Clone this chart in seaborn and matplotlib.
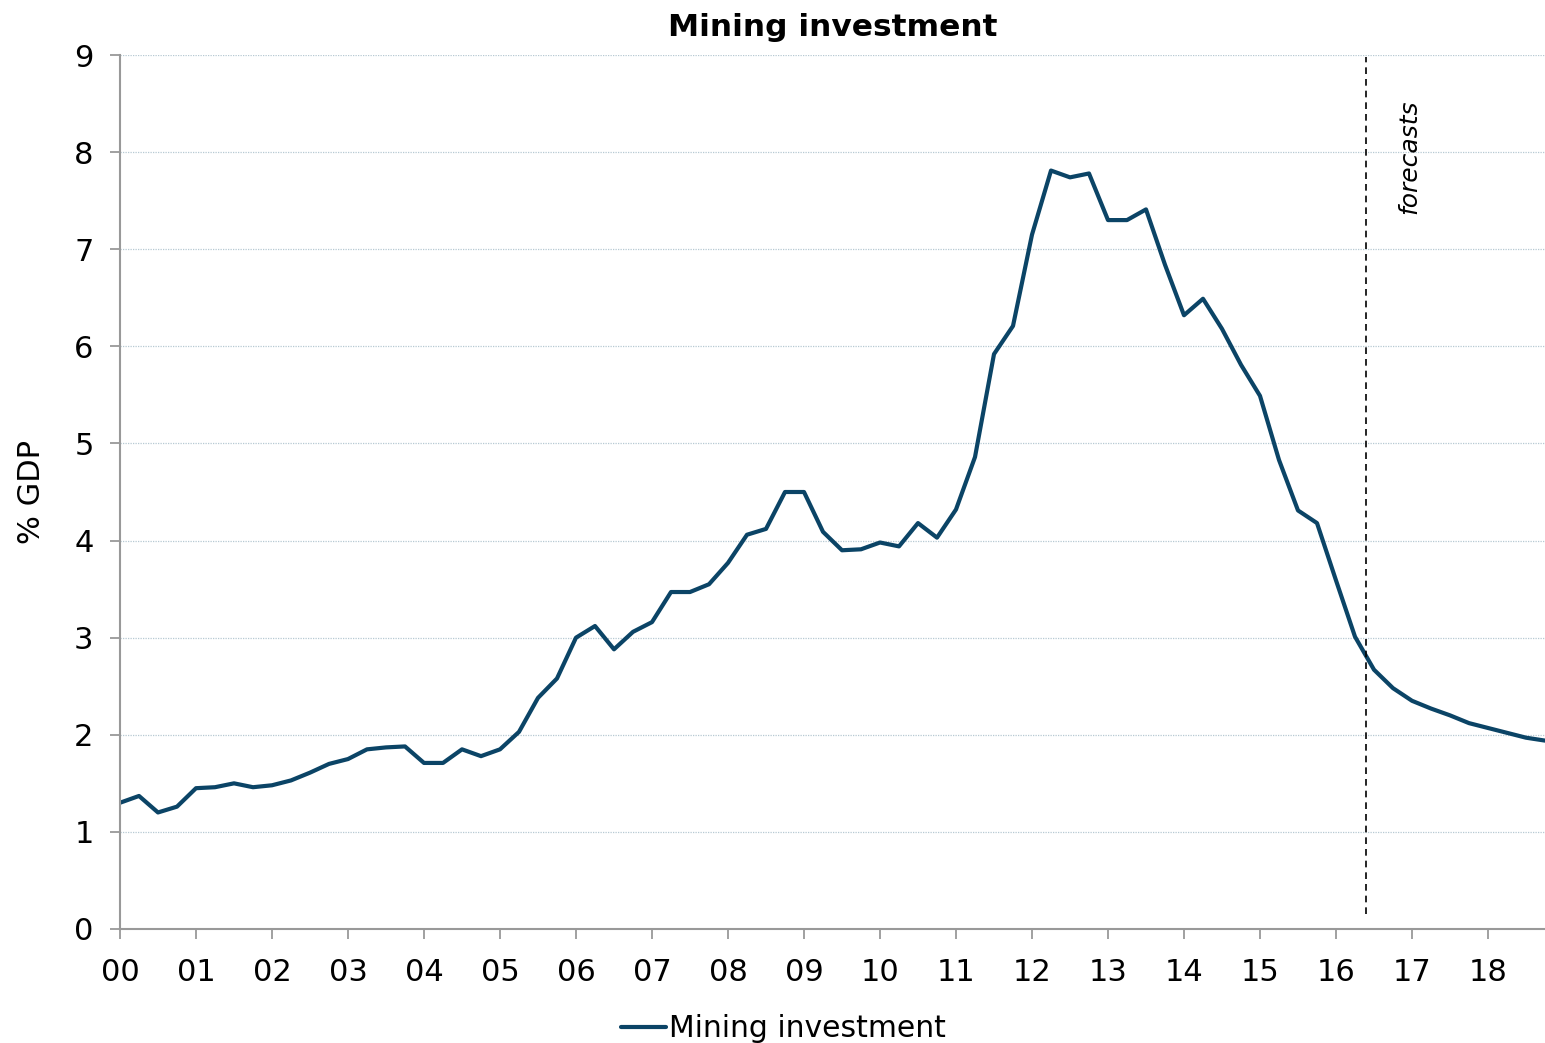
import matplotlib
matplotlib.use("Agg")
import matplotlib.pyplot as plt
import numpy as np
import pandas as pd
import seaborn as sns

# quarterly, 2000Q1 .. 2018Q4 (years since 2000)
quarters = np.arange(0, 19, 0.25)
mining = [
    1.30, 1.37, 1.20, 1.26,
    1.45, 1.46, 1.50, 1.46,
    1.48, 1.53, 1.61, 1.70,
    1.75, 1.85, 1.87, 1.88,
    1.71, 1.71, 1.85, 1.78,
    1.85, 2.03, 2.38, 2.58,
    3.00, 3.12, 2.88, 3.06,
    3.16, 3.47, 3.47, 3.55,
    3.77, 4.06, 4.12, 4.50,
    4.50, 4.09, 3.90, 3.91,
    3.98, 3.94, 4.18, 4.03,
    4.32, 4.86, 5.92, 6.21,
    7.15, 7.81, 7.74, 7.78,
    7.30, 7.30, 7.41, 6.84,
    6.32, 6.49, 6.18, 5.81,
    5.49, 4.83, 4.31, 4.18,
    3.59, 3.01, 2.67, 2.48,
    2.35, 2.27, 2.20, 2.12,
    2.07, 2.02, 1.97, 1.94,
]
year_ticks = list(range(19))
year_labels = ["%02d" % y for y in year_ticks]
forecast_start = 16.4

sns.set_style("white", {"xtick.bottom": True, "ytick.left": True,
                        "text.color": "black", "xtick.color": "#999999",
                        "ytick.color": "#999999", "axes.labelcolor": "black"})
plt.rcParams["font.family"] = ["DejaVu Sans"]

df = pd.DataFrame({"quarter": quarters, "value": mining})

fig = plt.figure(figsize=(15.45, 10.43), dpi=100)
ax = fig.add_axes([120 / 1545, 114 / 1043, 1425 / 1545, 874 / 1043])

sns.lineplot(data=df, x="quarter", y="value", ax=ax, color="#0b4466",
             linewidth=3.0, label="Mining investment", legend=False)

ax.vlines(forecast_start, 0.15, 8.98, colors="black", linestyles=(0, (4, 3)),
          linewidth=1.2)
ax.text(16.97, 7.95, "forecasts", rotation=90, style="italic", fontsize=18,
        ha="center", va="center", color="black")

ax.set_xlim(0, 18.75)
ax.set_ylim(0, 9)
ax.set_xticks(year_ticks)
ax.set_xticklabels(year_labels)
ax.set_yticks(range(10))

ax.yaxis.grid(True, color="#b7c9d3", linestyle=(0, (1, 1)), linewidth=0.9)
ax.xaxis.grid(False)
ax.set_axisbelow(True)

for side in ["top", "right"]:
    ax.spines[side].set_visible(False)
for side in ["left", "bottom"]:
    ax.spines[side].set_color("#999999")
    ax.spines[side].set_linewidth(1.5)

ax.tick_params(axis="both", which="major", labelsize=22, length=7,
               width=1.3, color="#999999", labelcolor="black", direction="out",
               bottom=True, left=True)
ax.tick_params(axis="x", pad=14)
ax.tick_params(axis="y", pad=12)

ax.set_xlabel("")
ax.set_ylabel("% GDP", fontsize=22, labelpad=20, color="black")
ax.set_title("Mining investment", fontsize=22.5, fontweight="bold", pad=14,
             color="black")

handles, labels = ax.get_legend_handles_labels()
fig.legend(handles, labels, loc="lower center", bbox_to_anchor=(0.507, -0.026),
           frameon=False, fontsize=21.5, handlelength=1.5, handletextpad=0.1)

fig.savefig("out.png", dpi=100)
